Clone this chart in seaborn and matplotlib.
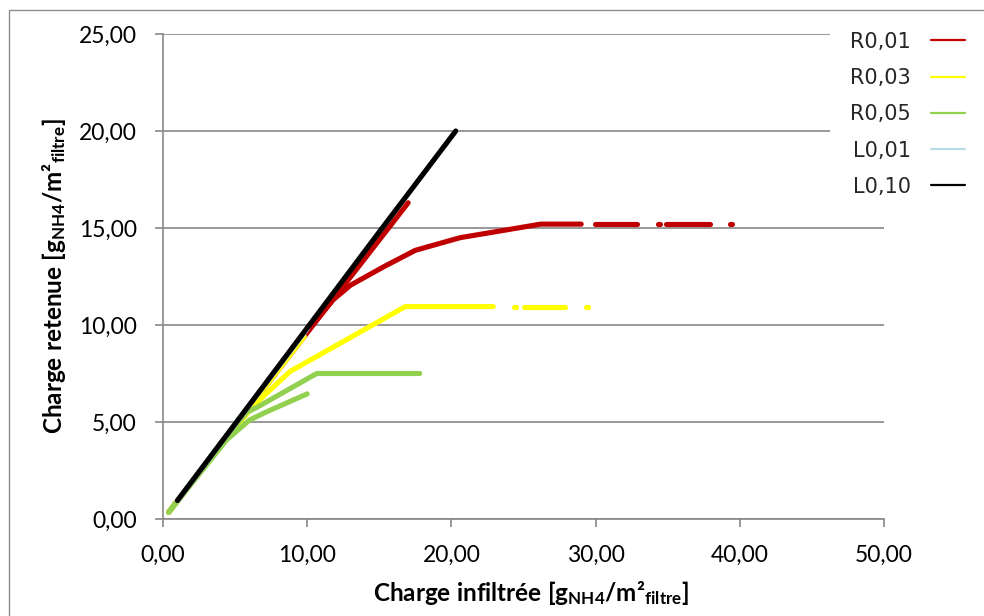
import numpy as np
import pandas as pd
import matplotlib
matplotlib.use("Agg")
import matplotlib.pyplot as plt
from matplotlib.lines import Line2D
from matplotlib.patches import Rectangle
import seaborn as sns

nan = np.nan

# ---------------- data (NaN separates disjoint pieces of a series) ----------------
series_names = ["R0,01", "R0,03", "R0,05", "L0,01", "L0,10"]
series_colors = ["#C00000", "#FFFF00", "#92D050", "#B7DEE8", "#000000"]

r001_x = [0.4, 5.0, 10.0, 17.0, nan,
          0.4, 9.0, 11.8, 13.0, 15.3, 17.5, 20.6, 26.2, 29.0, nan,
          29.96, 32.9, nan, 34.35, 34.45, nan, 34.9, 37.9, nan, 39.35, 39.45]
r001_y = [0.35, 4.8, 9.6, 16.3, nan,
          0.35, 8.8, 11.3, 12.05, 13.0, 13.85, 14.5, 15.2, 15.2, nan,
          15.2, 15.2, nan, 15.2, 15.2, nan, 15.2, 15.2, nan, 15.2, 15.2]

r003_x = [0.4, 5.0, 9.8, nan,
          0.4, 4.5, 6.5, 8.8, 16.8, 22.9, nan,
          24.35, 24.45, nan, 25.0, 27.9, nan, 29.35, 29.45]
r003_y = [0.35, 4.8, 9.4, nan,
          0.35, 4.3, 6.0, 7.6, 10.95, 10.95, nan,
          10.95, 10.95, nan, 10.95, 10.95, nan, 10.95, 10.95]

r005_x = [0.4, 4.0, 5.8, 6.5, 10.66, 17.8, nan,
          0.4, 4.4, 6.0, 7.2, 10.0]
r005_y = [0.35, 3.9, 5.5, 5.75, 7.5, 7.5, nan,
          0.35, 4.07, 5.1, 5.53, 6.45]

l001_x = [1.0, 5.0, 10.0]
l001_y = [0.95, 4.9, 9.8]

l010_x = [1.0, 5.0, 10.0, 15.0, 20.3]
l010_y = [0.95, 4.9, 9.85, 14.8, 20.0]

x_ticks = [0, 10, 20, 30, 40, 50]
x_tick_labels = ["0,00", "10,00", "20,00", "30,00", "40,00", "50,00"]
y_ticks = [0, 5, 10, 15, 20, 25]
y_tick_labels = ["0,00", "5,00", "10,00", "15,00", "20,00", "25,00"]

x_label = "$\\mathbf{Charge\\ infiltrée\\ [g_{NH4}/m²_{filtre}]}$"
y_label = "$\\mathbf{Charge\\ retenue\\ [g_{NH4}/m²_{filtre}]}$"

# ---------------- build long table ----------------
rows = []
for name, xs, ys in zip(series_names,
                        [r001_x, r003_x, r005_x, l001_x, l010_x],
                        [r001_y, r003_y, r005_y, l001_y, l010_y]):
    piece = 0
    for xv, yv in zip(xs, ys):
        if np.isnan(xv) or np.isnan(yv):
            piece += 1
            continue
        rows.append({"series": name, "piece": f"{name}-{piece}", "x": xv, "y": yv})
df = pd.DataFrame(rows)

# ---------------- style ----------------
sns.set_style("white")
plt.rcParams["font.family"] = ["Lato", "DejaVu Sans"]
plt.rcParams["mathtext.fontset"] = "custom"
plt.rcParams["mathtext.rm"] = "Lato"
plt.rcParams["mathtext.bf"] = "Lato:bold"
plt.rcParams["mathtext.it"] = "Lato:italic"

grey = "#878787"

fig = plt.figure(figsize=(9.84, 6.16), dpi=100)
ax = fig.add_axes([163 / 984, 97 / 616, 721 / 984, 485 / 616])

palette = dict(zip(series_names, series_colors))
sns.lineplot(data=df, x="x", y="y", hue="series", hue_order=series_names,
             palette=palette, units="piece", estimator=None, sort=False,
             linewidth=3.7, solid_capstyle="round", solid_joinstyle="round",
             legend=False, ax=ax)

ax.set_xlim(0, 50)
ax.set_ylim(0, 25)
ax.set_xticks(x_ticks)
ax.set_xticklabels(x_tick_labels)
ax.set_yticks(y_ticks)
ax.set_yticklabels(y_tick_labels)

ax.yaxis.grid(True, color=grey, lw=1.2)
ax.xaxis.grid(False)
ax.set_axisbelow(True)
for s in ["top", "right"]:
    ax.spines[s].set_visible(False)
for s in ["left", "bottom"]:
    ax.spines[s].set_color(grey)
    ax.spines[s].set_linewidth(1.2)
ax.tick_params(axis="both", which="major", bottom=True, left=True,
               direction="out", length=5.8, width=1.2, color=grey,
               pad=13, labelsize=16.5, labelcolor="#000000")

ax.set_xlabel(x_label, fontsize=17.5, color="black")
ax.set_ylabel(y_label, fontsize=17.5, color="black")
ax.xaxis.set_label_coords(0.51, -0.124)
ax.yaxis.set_label_coords(-0.132, 0.5)

# legend (text first, then line)
handles = [Line2D([], [], color=c, lw=1.6) for c in series_colors]
fig.legend(handles, series_names, loc="upper left",
           bbox_to_anchor=(830 / 984, 1 - 12 / 616),
           frameon=True, facecolor="white", edgecolor="none", framealpha=1,
           fancybox=False, markerfirst=False, handlelength=1.6,
           handletextpad=1.0, labelspacing=0.78, borderpad=0.95,
           borderaxespad=0,
           prop={"family": "DejaVu Sans", "size": 15})

# outer chart border
fig.add_artist(Rectangle((9 / 984, -0.1), 2, (616 - 10) / 616 + 0.1,
                         transform=fig.transFigure, fill=False,
                         edgecolor="#8c8c8c", lw=1.0))

fig.savefig("out.png", dpi=100)
